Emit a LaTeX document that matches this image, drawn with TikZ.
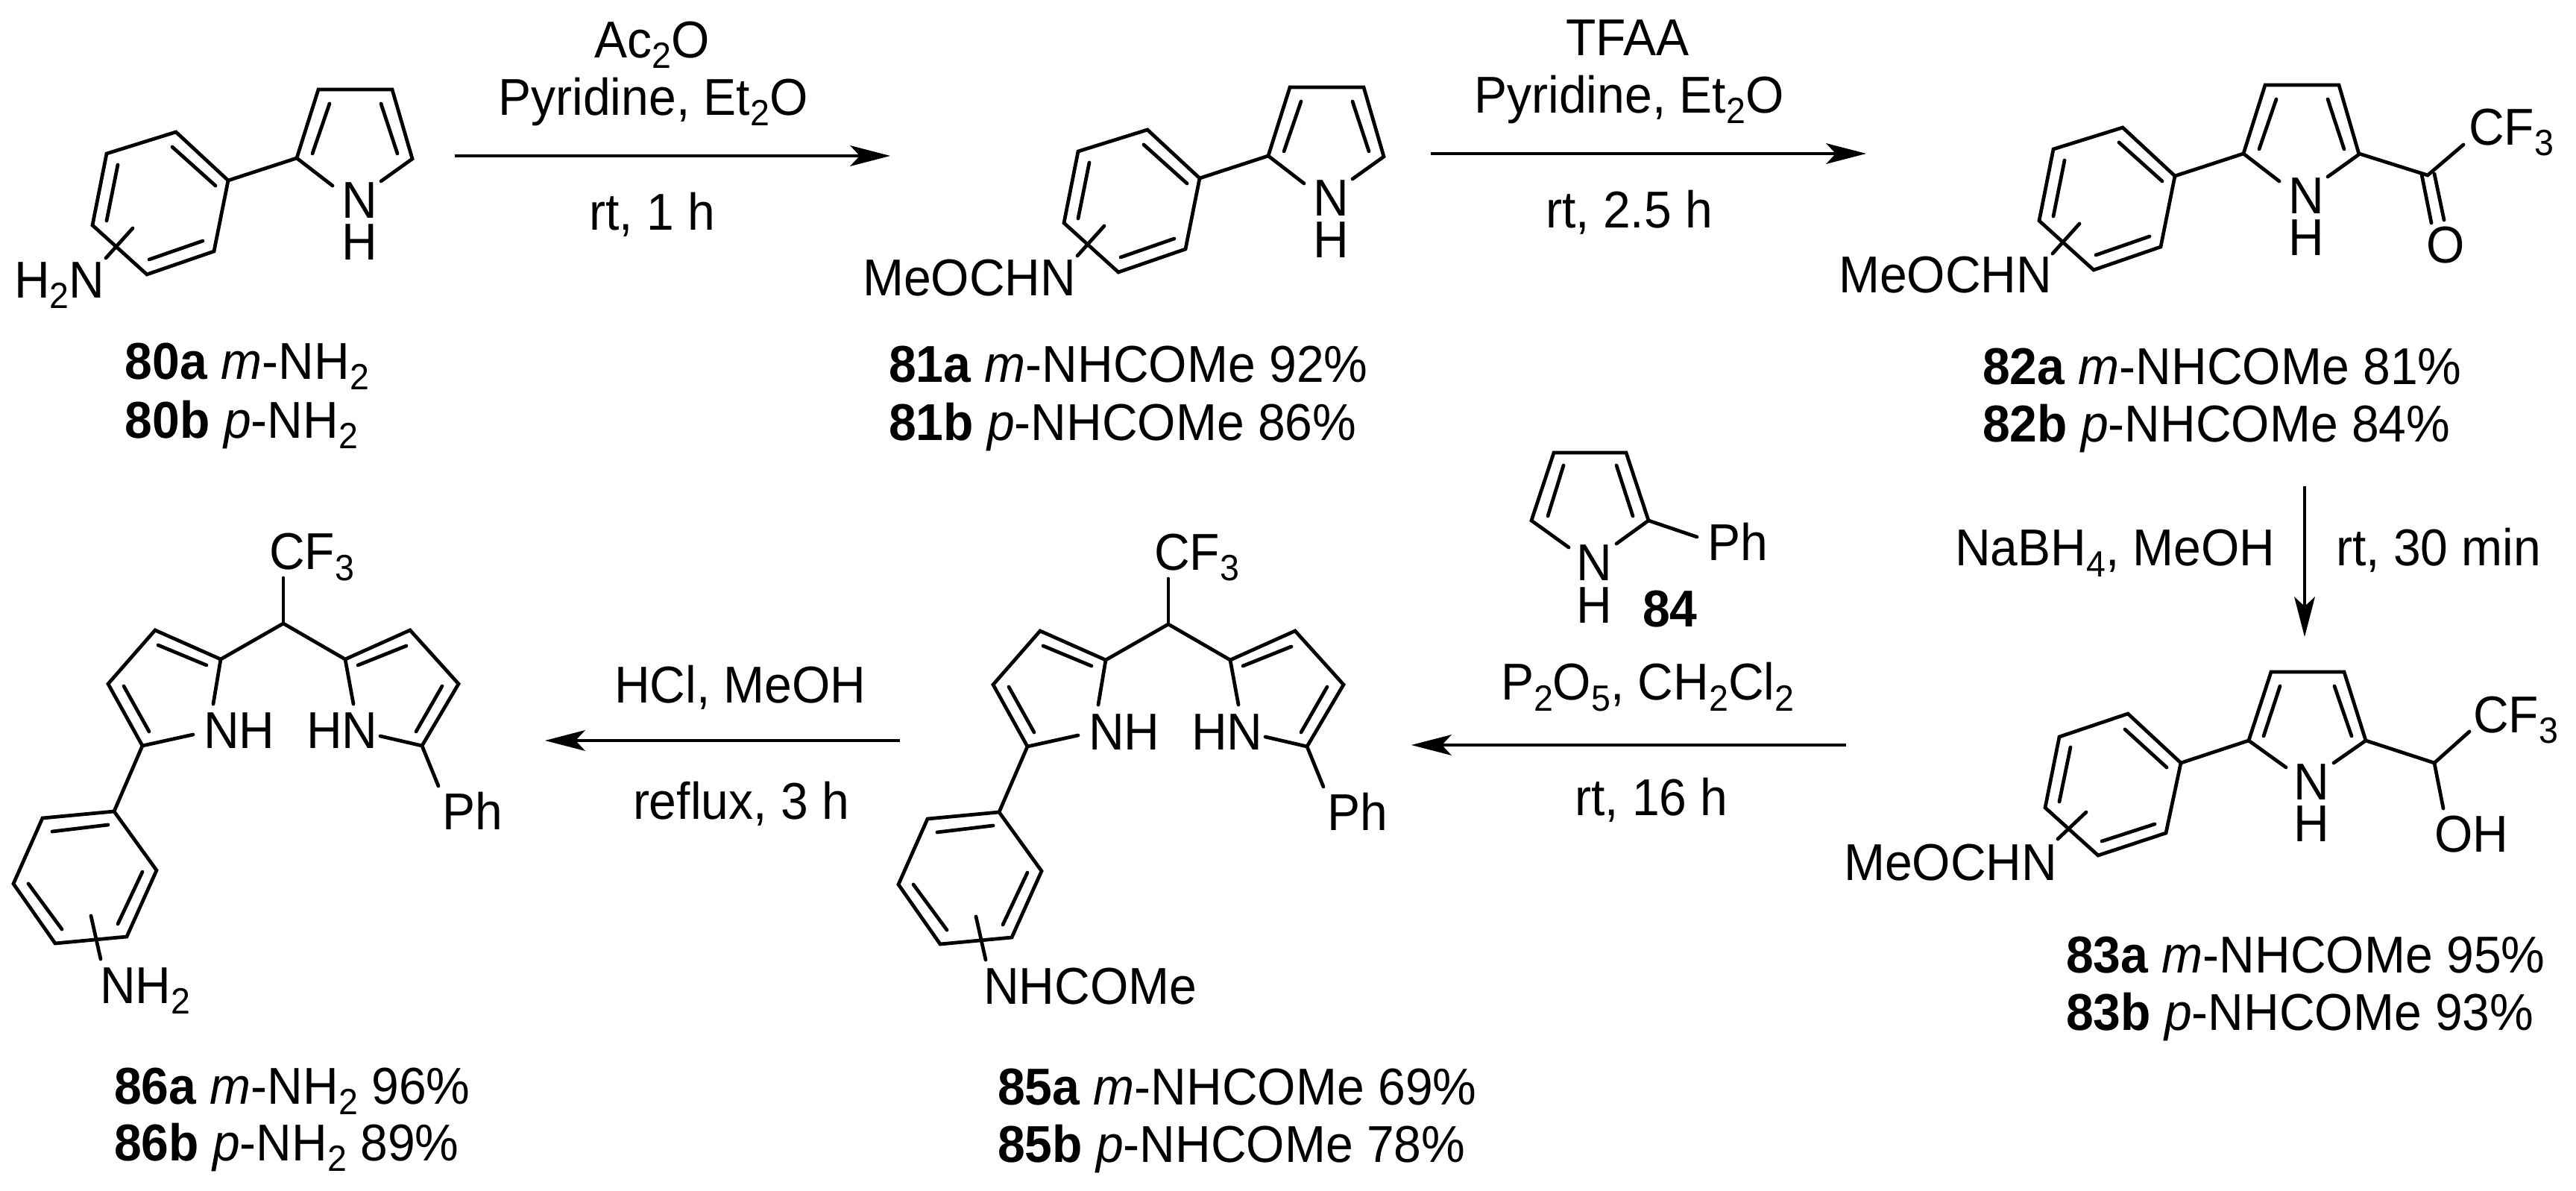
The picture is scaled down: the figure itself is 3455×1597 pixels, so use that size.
\documentclass[tikz,border=0pt]{standalone}
\usepackage{fontspec}
\usetikzlibrary{arrows.meta}
\setmainfont[FakeStretch=0.95]{Liberation Sans}
\newcommand{\subs}[1]{\raisebox{-2.8pt}{\fontsize{9.8}{9.8}\selectfont #1}}
\newcommand{\cmpd}[1]{\textbf{#1}}
\tikzset{
  x=0.2pt,y=-0.2pt,
  bond/.style={line width=0.95pt,line cap=round,line join=miter},
  rxn/.style={line width=0.8pt,-{Stealth[length=10.8pt,width=5.6pt,inset=2.6pt,line width=0pt]}},
  lbl/.style={inner sep=0pt,outer sep=0pt,anchor=base west,font=\fontsize{13.9}{13.9}\selectfont},
  ctr/.style={inner sep=0pt,outer sep=0pt,anchor=base,font=\fontsize{13.9}{13.9}\selectfont},
  atom/.style={ctr,text height=9.5pt,text depth=0pt},
}
% phenylpyrrole skeleton shared by 80, 81, 82
\newcommand{\phpy}{%
  \draw[bond] (306,242)--(236,177)--(143,206)--(124,302)--(197,368)--(287,337)--cycle;
  \draw[bond] (231,197)--(289,249) (158,221)--(143,296) (272,323)--(200,348);
  \draw[bond] (306,242)--(398,212);
  \draw[bond] (446,249)--(398,212)--(427,120)--(526,120)--(553,213)--(511,243);
  \draw[bond] (442,139)--(419,206) (511,139)--(533,206);
  \draw[bond] (178,306)--(142,346);
  \node[atom] (N) at (482,293) {N};
  \node[atom] (H) at (482,349) {H};
}
% bis(pyrrolyl)ethane skeleton shared by 85, 86
\newcommand{\dipy}{%
  \node[lbl] (cf3) at (1548,765) {CF\subs{3}};
  \draw[bond] (1567,776)--(1567,837);
  \draw[bond] (1473,945)--(1483,885)--(1567,837)--(1650,885)--(1661,945);
  \draw[bond] (1483,885)--(1395,846)--(1332,918)--(1378,1001)--(1446,986);
  \draw[bond] (1650,885)--(1737,846)--(1802,918)--(1753,1001)--(1697,988);
  \draw[bond] (1464,893)--(1399,866) (1353,921)--(1387,982);
  \draw[bond] (1667,893)--(1732,867) (1780,921)--(1745,982);
  \node[lbl] (nh) at (1460,1005) {NH};
  \node[lbl] (hn) at (1598,1005) {HN};
  \draw[bond] (1753,1001)--(1775,1055);
  \node[lbl] (ph) at (1780,1113) {Ph};
  \draw[bond] (1378,1001)--(1340,1089);
  \draw[bond] (1340,1089)--(1397,1168)--(1357,1257)--(1261,1266)--(1205,1186)--(1244,1098)--cycle;
  \draw[bond] (1378,1170)--(1345,1240) (1270,1247)--(1225,1186) (1257,1116)--(1332,1107);
  \draw[bond] (1309,1229)--(1322,1287);
}
\begin{document}
\begin{tikzpicture}
\useasboundingbox (0,0) rectangle (3455,1597);

% 80
\begin{scope}[name prefix=a-]\phpy\end{scope}
\node[lbl] (h2n) at (19,400) {H\subs{2}N};
\node[lbl] (l80a) at (168,509) {\cmpd{80a} \textit{m}-NH\subs{2}};
\node[lbl] (l80b) at (168,588) {\cmpd{80b} \textit{p}-NH\subs{2}};

% arrow 1
\coordinate (r1s) at (610,209); \coordinate (r1e) at (1194,209);
\draw[rxn] (r1s)--(r1e);
\node[ctr] (r1a) at (875,78) {Ac\subs{2}O};
\node[ctr] (r1b) at (876,155) {Pyridine, Et\subs{2}O};
\node[ctr] (r1c) at (875,309) {rt, 1 h};

% 81
\begin{scope}[shift={(1303,-3)},name prefix=b-]\phpy\end{scope}
\node[lbl] (m81) at (1157,397) {MeOCHN};
\node[lbl] (l81a) at (1192,513) {\cmpd{81a} \textit{m}-NHCOMe 92\%};
\node[lbl] (l81b) at (1192,591) {\cmpd{81b} \textit{p}-NHCOMe 86\%};

% arrow 2
\coordinate (r2s) at (1919,206); \coordinate (r2e) at (2503,206);
\draw[rxn] (r2s)--(r2e);
\node[ctr] (r2a) at (2183,75) {TFAA};
\node[ctr] (r2b) at (2185,152) {Pyridine, Et\subs{2}O};
\node[ctr] (r2c) at (2185,306) {rt, 2.5 h};

% 82
\begin{scope}[shift={(2611,-6)},name prefix=c-]\phpy\end{scope}
\draw[bond] (3164,206)--(3256,235)--(3304,194);
\draw[bond] (3248,234)--(3261,299) (3265,233)--(3278,295);
\node[lbl] (cf82) at (3311,195) {CF\subs{3}};
\node[ctr] (o82) at (3280,353) {O};
\node[lbl] (m82) at (2466,393) {MeOCHN};
\node[lbl] (l82a) at (2659,516) {\cmpd{82a} \textit{m}-NHCOMe 81\%};
\node[lbl] (l82b) at (2659,593) {\cmpd{82b} \textit{p}-NHCOMe 84\%};

% arrow 3 (down)
\coordinate (r3s) at (3091,652); \coordinate (r3e) at (3091,854);
\draw[rxn] (r3s)--(r3e);
\node[lbl] (r3a) at (2622,759) {NaBH\subs{4}, MeOH};
\node[lbl] (r3b) at (3133,759) {rt, 30 min};

% 83
\draw[bond] (2925,1023)--(2854,957)--(2762,988)--(2743,1083)--(2814,1147)--(2905,1117)--cycle;
\draw[bond] (2850,978)--(2906,1029) (2777,1002)--(2762,1075) (2890,1105)--(2819,1128);
\draw[bond] (2925,1023)--(3016,993);
\draw[bond] (3066,1029)--(3016,993)--(3046,901)--(3144,901)--(3173,993)--(3130,1023);
\draw[bond] (3058,920)--(3036,987) (3131,920)--(3154,987);
\draw[bond] (3173,993)--(3265,1023)--(3312,981);
\draw[bond] (3265,1023)--(3277,1084);
\draw[bond] (2798,1089)--(2760,1125);
\node[atom] (n83) at (3100,1072) {N};
\node[atom] (h83) at (3100,1128) {H};
\node[lbl] (cf83) at (3317,982) {CF\subs{3}};
\node[lbl] (oh83) at (3265,1142) {OH};
\node[lbl] (m83) at (2473,1180) {MeOCHN};
\node[lbl] (l83a) at (2771,1304) {\cmpd{83a} \textit{m}-NHCOMe 95\%};
\node[lbl] (l83b) at (2771,1381) {\cmpd{83b} \textit{p}-NHCOMe 93\%};

% 84
\draw[bond] (2104,734)--(2054,698)--(2084,607)--(2181,607)--(2211,698)--(2168,729);
\draw[bond] (2097,624)--(2076,692) (2168,624)--(2190,692);
\draw[bond] (2211,698)--(2276,720);
\node[lbl] (ph84) at (2290,752) {Ph};
\node[atom] (n84) at (2138,779) {N};
\node[atom] (h84) at (2138,836) {H};
\node[lbl] (l84) at (2203,841) {\cmpd{84}};

% arrow 4
\coordinate (r4s) at (2476,999); \coordinate (r4e) at (1893,999);
\draw[rxn] (r4s)--(r4e);
\node[lbl] (r4a) at (2013,939) {P\subs{2}O\subs{5}, CH\subs{2}Cl\subs{2}};
\node[lbl] (r4b) at (2112,1093) {rt, 16 h};

% 85
\begin{scope}[name prefix=e-]\dipy\end{scope}
\node[lbl] (m85) at (1319,1346) {NHCOMe};
\node[lbl] (l85a) at (1338,1481) {\cmpd{85a} \textit{m}-NHCOMe 69\%};
\node[lbl] (l85b) at (1338,1558) {\cmpd{85b} \textit{p}-NHCOMe 78\%};

% arrow 5
\coordinate (r5s) at (1207,993); \coordinate (r5e) at (731,993);
\draw[rxn] (r5s)--(r5e);
\node[lbl] (r5a) at (824,942) {HCl, MeOH};
\node[lbl] (r5b) at (849,1098) {reflux, 3 h};

% 86
\begin{scope}[shift={(-1187,-1)},name prefix=f-]\dipy\end{scope}
\node[lbl] (m86) at (134,1345) {NH\subs{2}};
\node[lbl] (l86a) at (153,1480) {\cmpd{86a} \textit{m}-NH\subs{2} 96\%};
\node[lbl] (l86b) at (153,1556) {\cmpd{86b} \textit{p}-NH\subs{2} 89\%};
\end{tikzpicture}
\end{document}
